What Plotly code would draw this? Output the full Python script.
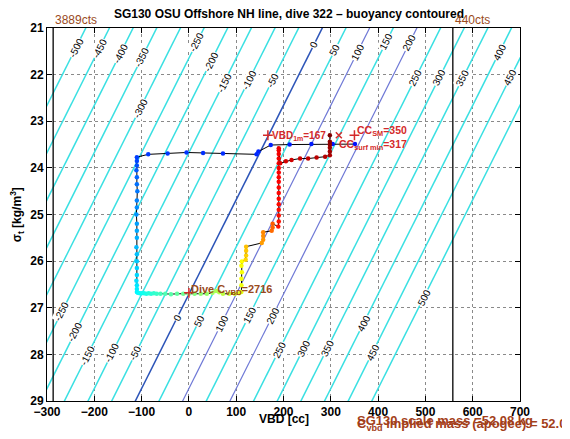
import plotly.graph_objects as go

# ---------------- data ----------------
# buoyancy contour model: VBD [cc] of the contour "level" [g] at sigma_t
SIGMA_REF = 21.0
VBD_B0_AT_REF = 282.0
CC_PER_GRAM = 1.0
CC_PER_SIGMA = 49.4
contour_levels = list(range(-500, 501, 50))
special_colors = {0: "rgb(44,84,184)", 100: "rgb(110,120,214)", 200: "rgb(110,120,214)"}

label_levels = [-500, -450, -400, -350, -300, -250, -200, -150, -100, -50, 0, 50, 100, 150, 200,
                250, 300, 350, 400, 450, 500,
                -250, -200, -150, -100, -50, 0, 50, 100, 150, 200, 250, 300, 350, 400, 450]
label_sigmas = [21.43, 21.43, 21.54, 21.64, 22.72, 21.32, 21.73, 22.18, 22.12, 22.12, 21.36, 21.47, 21.52, 21.30, 21.32,
                22.07, 22.07, 22.07, 21.52, 22.07, 26.77,
                27.09, 27.52, 28.02, 27.97, 27.97, 27.20, 27.27, 27.33, 27.16, 27.16, 27.91, 27.87, 27.87, 27.33, 27.95]

# dive track (VBD cc, sigma_t) and elapsed time [min] (colour)
track_vbd = [351, 304, 259, 213, 173, 147, 143, 72, 30, -5, -45, -86, -110,
             -110, -110, -111, -110, -110, -109, -110, -110, -111, -110, -110, -110, -111, -110, -110, -110, -110, -111, -110, -110, -110,
             -108, -104, -100, -95, -90, -85, -80, -74, -68, -60, -50, -38, -25, -12, 0, 12, 25, 38, 50, 57, 64, 72, 85, 97, 106,
             111, 111, 111, 112, 111, 112,
             120, 121, 121, 121,
             154, 157, 157, 157,
             175, 177, 177,
             189, 190, 190, 190, 190, 190, 190, 190, 190, 190, 190, 190, 190, 190, 190, 190, 190,
             193, 205, 217, 235, 252, 270, 288, 298, 298, 298, 298, 298, 298]
track_sigma = [23.49, 23.49, 23.49, 23.50, 23.51, 23.65, 23.71, 23.69, 23.68, 23.67, 23.69, 23.71, 23.77,
               23.85, 23.95, 24.05, 24.20, 24.35, 24.50, 24.70, 24.85, 25.00, 25.20, 25.35, 25.50, 25.70, 25.85, 26.00, 26.15, 26.30, 26.42, 26.52, 26.60, 26.66,
               26.68, 26.69, 26.69, 26.69, 26.70, 26.69, 26.70, 26.69, 26.70, 26.70, 26.70, 26.71, 26.70, 26.70, 26.70, 26.70, 26.70, 26.70, 26.68, 26.64, 26.67, 26.70, 26.70, 26.70, 26.69,
               26.66, 26.52, 26.38, 26.24, 26.10, 26.01,
               25.97, 25.88, 25.78, 25.69,
               25.61, 25.54, 25.46, 25.38,
               25.35, 25.28, 25.20,
               25.26, 25.15, 25.02, 24.90, 24.78, 24.66, 24.54, 24.42, 24.30, 24.20, 24.10, 24.00, 23.90, 23.80, 23.70, 23.62, 23.58,
               23.90, 23.86, 23.83, 23.80, 23.80, 23.78, 23.76, 23.73, 23.65, 23.57, 23.50, 23.44, 23.30]
track_time = [0, 0.5, 1, 1.5, 2, 2.5, 3, 3.5, 4, 4.5, 5, 5.5, 6,
              7, 8.5, 10, 11.5, 13, 14, 15.5, 17, 18, 19.5, 20.5, 21.5, 23, 24, 25, 26, 27, 28, 29, 30, 31,
              32, 33, 34, 35, 36, 37, 38, 39, 40, 41.5, 43, 44.5, 46, 47.5, 49, 50.5, 52, 53.5, 55, 56, 57, 58.5, 60, 62, 63.5,
              65, 65.5, 66, 66.5, 67, 67.5,
              73, 74, 75, 76,
              81, 82, 83, 84,
              88, 89, 90,
              100, 100.3, 100.6, 100.9, 101.2, 101.5, 101.8, 102.1, 102.4, 102.7, 103, 103.3, 103.6, 103.9, 104.2, 104.5, 105,
              107, 108, 109, 110, 111, 112, 113, 114, 115, 116, 117, 118, 120]

count_lines = [(-287, "3889cts"), (558, "440cts")]
vbd_1m = 167
cc_surf_min = 317
cc_sm = 350
marker_sigma = 23.30
dive_c_vbd = 0
dive_c_sigma = 26.68
dive_c_value = 2716

FONT = "Liberation Sans, Arial, Helvetica, sans-serif"
BROWN = "#9a4a1c"
RED = "#d42a2a"
# MATLAB-style jet colour map
JET = [[0.0, "rgb(0,0,128)"], [0.125, "rgb(0,0,255)"], [0.375, "rgb(0,255,255)"],
       [0.625, "rgb(255,255,0)"], [0.875, "rgb(255,0,0)"], [1.0, "rgb(128,0,0)"]]


def contour_vbd(level, sigma):
    return VBD_B0_AT_REF + level * CC_PER_GRAM - CC_PER_SIGMA * (sigma - SIGMA_REF)


fig = go.Figure()

# contours
for lev in contour_levels:
    fig.add_trace(go.Scatter(
        x=[contour_vbd(lev, 20.5), contour_vbd(lev, 29.5)], y=[20.5, 29.5],
        mode="lines", line=dict(color=special_colors.get(lev, "rgb(58,224,226)"), width=1.5 if lev not in (100, 200) else 1.2),
        hoverinfo="skip", showlegend=False))

# count lines
for v, _ in count_lines:
    fig.add_trace(go.Scatter(x=[v, v], y=[21, 29], mode="lines",
                             line=dict(color="black", width=1.3), showlegend=False, hoverinfo="skip"))

# dive track
fig.add_trace(go.Scatter(
    x=track_vbd, y=track_sigma, mode="lines+markers",
    line=dict(color="black", width=1),
    marker=dict(size=4.5, color=track_time, colorscale=JET, cmin=-20, cmax=120, line=dict(width=0)),
    showlegend=False))

# special markers
fig.add_trace(go.Scatter(x=[vbd_1m, cc_sm, dive_c_vbd], y=[marker_sigma, marker_sigma, dive_c_sigma],
                         mode="markers", marker=dict(symbol="cross-thin", size=7, line=dict(color=RED, width=1.5)),
                         showlegend=False))
fig.add_trace(go.Scatter(x=[cc_surf_min], y=[marker_sigma], mode="markers",
                         marker=dict(symbol="x-thin", size=6, line=dict(color=RED, width=1.5)),
                         showlegend=False))

ann = []
for lev, s in zip(label_levels, label_sigmas):
    ann.append(dict(x=contour_vbd(lev, s), y=s, xref="x", yref="y", text=str(lev), showarrow=False,
                    textangle=-63, font=dict(family=FONT, size=10, color="black"),
                    bgcolor="white", borderpad=0))

for v, t in count_lines:
    ann.append(dict(x=v, y=1, xref="x", yref="paper", text=t, showarrow=False, xanchor="left",
                    yanchor="bottom", yshift=-1, font=dict(family=FONT, size=12, color=BROWN)))

ann += [
    dict(x=vbd_1m, y=23.25, xref="x", yref="y", xanchor="left", yanchor="middle", xshift=2, yshift=-3,
         text=f"VBD<sub>1m</sub>={vbd_1m}", showarrow=False,
         font=dict(family=FONT, size=10, color=RED, weight="bold")),
    dict(x=cc_sm, y=23.15, xref="x", yref="y", xanchor="left", yanchor="middle", xshift=1, yshift=-3,
         text=f"CC<sub>SM</sub>={cc_sm}", showarrow=False,
         font=dict(family=FONT, size=10.5, color=RED, weight="bold")),
    dict(x=cc_surf_min, y=23.44, xref="x", yref="y", xanchor="left", yanchor="middle", xshift=-2, yshift=-3,
         text=f"CC<sub>surf min</sub>={cc_surf_min}", showarrow=False,
         font=dict(family=FONT, size=10.5, color=RED, weight="bold")),
    dict(x=dive_c_vbd, y=26.55, xref="x", yref="y", xanchor="left", yanchor="middle", xshift=0, yshift=-3,
         text=f"Dive C<sub>VBD</sub>={dive_c_value}", showarrow=False,
         font=dict(family=FONT, size=11, color=BROWN, weight="bold")),
    dict(x=351, y=-0.053, xref="x", yref="paper", xanchor="left", yanchor="middle",
         text="SG130 scale mass =52.08 kg", showarrow=False,
         font=dict(family=FONT, size=13, color="#a3401a", weight="bold")),
    dict(x=351, y=-0.064, xref="x", yref="paper", xanchor="left", yanchor="middle",
         text="C<sub>vbd</sub> implied mass (apogee) = 52.080 kg", showarrow=False,
         font=dict(family=FONT, size=13, color="#a3401a", weight="bold")),
    dict(x=0.5, y=-0.048, xref="paper", yref="paper", xanchor="center", yanchor="middle",
         text="VBD [cc]", showarrow=False, font=dict(family=FONT, size=12, color="black", weight="bold")),
    dict(x=-0.064, y=0.5, xref="paper", yref="paper", xanchor="center", yanchor="middle", textangle=-90,
         text="σ<sub>t</sub> [kg/m<sup>3</sup>]", showarrow=False,
         font=dict(family=FONT, size=12, color="black", weight="bold")),
]

axis_common = dict(showline=True, linecolor="black", linewidth=1, mirror="ticks", ticks="inside",
                   ticklen=5, tickcolor="black", showgrid=True, gridcolor="#8a8a8a", griddash="dot",
                   gridwidth=1, zeroline=False, automargin=False,
                   tickfont=dict(family=FONT, size=12, color="black", weight="bold"))

# the page body adds an 8 px offset, so the figure is 8 px smaller than the window
fig.update_layout(
    width=562, height=431,
    margin=dict(l=39, r=50, t=20, b=38, autoexpand=False),
    paper_bgcolor="white", plot_bgcolor="white",
    title=dict(text="SG130 OSU Offshore NH line, dive 322 – buoyancy contoured", x=0.5, xanchor="center",
               y=1 - 6 / 431, yanchor="middle", yref="container",
               font=dict(family=FONT, size=12, color="black", weight="bold")),
    xaxis=dict(range=[-300, 700], dtick=100, **axis_common),
    yaxis=dict(range=[29, 21], dtick=1, **axis_common),
    annotations=ann,
    showlegend=False,
)

fig.write_html("out.html")
